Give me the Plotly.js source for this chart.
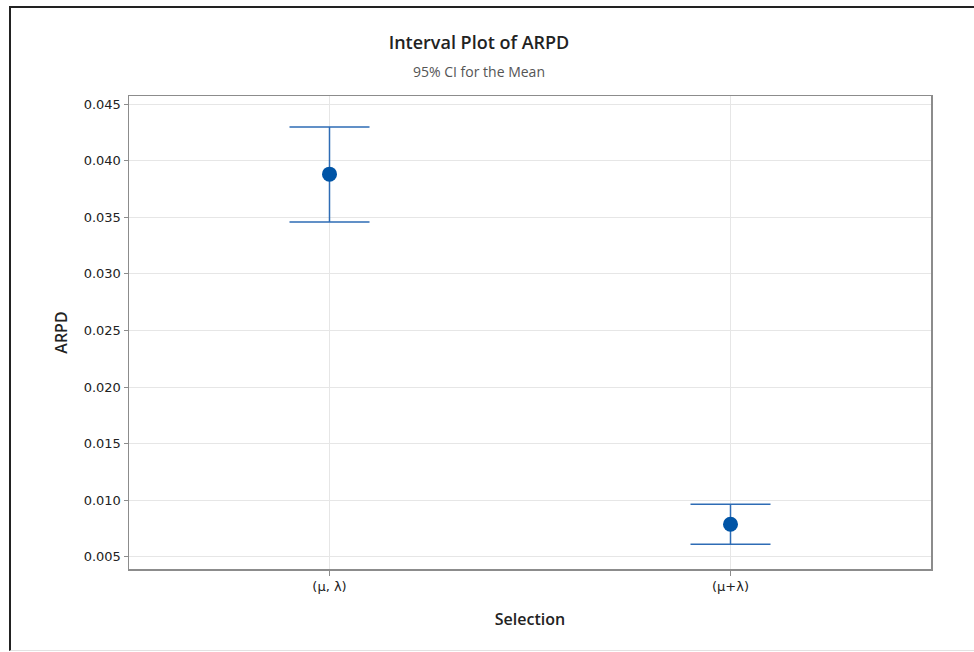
<!DOCTYPE html>
<html>
<head>
<meta charset="utf-8">
<script src="https://cdn.plot.ly/plotly-3.0.1.min.js"></script>
<style>
  html, body { margin: 0; padding: 0; background: #fff; }
  #wrap { position: relative; width: 974px; height: 652px; }
  #chart { position: absolute; left: 0; top: 0; width: 974px; height: 652px; }
  #frame { position: absolute; left: 9px; top: 6px; right: 0; bottom: 1px;
           border-top: 2.5px solid #222; border-left: 2.5px solid #222;
           border-bottom: 1px solid #e2e2e2; pointer-events: none; box-sizing: border-box; }
</style>
</head>
<body>
<div id="wrap">
  <div id="chart"></div>
  <div id="frame"></div>
</div>
<script>
// Data
const categories = ["(\u03bc, \u03bb)", "(\u03bc+\u03bb)"];
const means = [0.03882, 0.00786];
const lowerCI = [0.03458, 0.00610];
const upperCI = [0.04300, 0.00963];
const yTicks = [0.005, 0.010, 0.015, 0.020, 0.025, 0.030, 0.035, 0.040, 0.045];

const plus = upperCI.map((u, i) => u - means[i]);
const minus = lowerCI.map((l, i) => means[i] - l);

const trace = {
  type: "scatter",
  mode: "markers",
  x: categories,
  y: means,
  marker: { color: "#0054a6", size: 15 },
  error_y: {
    type: "data",
    symmetric: false,
    array: plus,
    arrayminus: minus,
    color: "#2e6cb5",
    thickness: 1.5,
    width: 40
  },
  hoverinfo: "none"
};

const fontTick = { family: "DejaVu Sans, sans-serif", size: 13, color: "#222" };
const titleFont = { family: "Open Sans, sans-serif", size: 18, color: "#222", weight: 600 };
const axTitleFont = { family: "Open Sans, sans-serif", size: 16, color: "#222", weight: 600 };

const layout = {
  width: 974,
  height: 652,
  paper_bgcolor: "#ffffff",
  plot_bgcolor: "#ffffff",
  margin: { l: 129, r: 43, t: 96, b: 83 },
  showlegend: false,
  title: {
    text: "Interval Plot of ARPD",
    font: titleFont,
    x: 479 / 974, xref: "container", xanchor: "center",
    y: 1 - 43 / 652, yref: "container", yanchor: "middle"
  },
  annotations: [{
    text: "95% CI for the Mean",
    xref: "paper", yref: "paper",
    x: (479 - 129) / 802, xanchor: "center",
    y: 1 + (96 - 71) / 473, yanchor: "middle",
    showarrow: false,
    font: { family: "Open Sans, sans-serif", size: 14, color: "#555" }
  }],
  xaxis: {
    type: "category",
    categoryorder: "array",
    categoryarray: categories,
    range: [-0.5, 1.5],
    showgrid: true,
    gridcolor: "#e6e6e6",
    gridwidth: 1,
    ticks: "outside",
    ticklen: 5,
    tickcolor: "#8c8c8c",
    tickfont: fontTick,
    showline: true,
    linecolor: "#8c8c8c",
    linewidth: 1.5,
    mirror: true,
    zeroline: false,
    title: {
      text: "Selection",
      font: axTitleFont,
      standoff: 20
    }
  },
  yaxis: {
    range: [0.00391, 0.04573],
    tickvals: yTicks,
    tickformat: ".3f",
    showgrid: true,
    gridcolor: "#e6e6e6",
    gridwidth: 1,
    ticks: "outside",
    ticklen: 4,
    tickcolor: "#8c8c8c",
    tickfont: fontTick,
    showline: true,
    linecolor: "#8c8c8c",
    linewidth: 1.5,
    mirror: true,
    zeroline: false,
    title: {
      text: "ARPD",
      font: axTitleFont,
      standoff: 12
    }
  }
};

Plotly.newPlot("chart", [trace], layout, { displayModeBar: false, staticPlot: true });
</script>
</body>
</html>
